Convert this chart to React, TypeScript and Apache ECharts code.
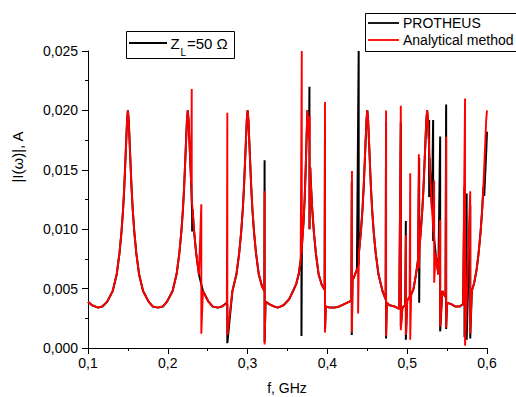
import React, { useEffect, useRef } from "react";
import * as echarts from "echarts";

type P = [number, number];
type Spike = [number, number, number]; // [f, top, bottom]

// Base resonance curve, split by period (f in GHz, |I| in A)
const seg1: P[] = [
  [0.1, 0.0039], [0.105, 0.0036], [0.1125, 0.0034], [0.118, 0.0035], [0.124, 0.0039], [0.131, 0.0048],
  [0.136, 0.0062], [0.1395, 0.008], [0.142, 0.0098], [0.144, 0.0117], [0.1455, 0.0136], [0.147, 0.016],
  [0.148, 0.0176], [0.149, 0.0192], [0.15, 0.02], [0.151, 0.0192], [0.152, 0.0176], [0.153, 0.016],
  [0.1545, 0.0136], [0.156, 0.0117], [0.158, 0.0098], [0.1605, 0.008], [0.164, 0.0062], [0.169, 0.0048],
  [0.176, 0.0039], [0.181, 0.0035],
];
const seg2: P[] = [
  [0.1875, 0.0034], [0.194, 0.0035], [0.199, 0.0039], [0.206, 0.0048], [0.211, 0.0062], [0.2145, 0.008],
  [0.217, 0.0098], [0.219, 0.0117], [0.2205, 0.0136], [0.222, 0.016], [0.223, 0.0176], [0.224, 0.0192],
  [0.225, 0.02], [0.226, 0.0192], [0.227, 0.0176], [0.228, 0.016], [0.2293, 0.0138], [0.231, 0.0117],
  [0.233, 0.0098], [0.2355, 0.008], [0.239, 0.0062], [0.244, 0.0048], [0.251, 0.0039], [0.256, 0.0035],
];
const seg3: P[] = [
  [0.2625, 0.0034], [0.268, 0.0035], [0.274, 0.0038], [0.281, 0.0048], [0.286, 0.0062], [0.2895, 0.008],
  [0.292, 0.0098], [0.294, 0.0117], [0.2955, 0.0136], [0.297, 0.016], [0.298, 0.0176], [0.299, 0.0192],
  [0.3, 0.02], [0.301, 0.0192], [0.302, 0.0176], [0.303, 0.016], [0.3045, 0.0136], [0.306, 0.0117],
  [0.308, 0.0098], [0.3105, 0.008], [0.314, 0.0062], [0.318, 0.0052], [0.321, 0.0048],
];
const seg4: P[] = [
  [0.3225, 0.0039], [0.327, 0.0037], [0.333, 0.0035], [0.338, 0.0034], [0.345, 0.0036], [0.352, 0.0041],
  [0.357, 0.0048], [0.361, 0.0054], [0.364, 0.0062], [0.3665, 0.0074], [0.368, 0.0085], [0.37, 0.0105],
  [0.3715, 0.0125], [0.373, 0.0155], [0.374, 0.018], [0.375, 0.02], [0.376, 0.0192], [0.377, 0.0176],
  [0.3785, 0.0152], [0.3795, 0.0136], [0.381, 0.0117], [0.383, 0.0098], [0.3855, 0.008], [0.389, 0.0062],
  [0.393, 0.0053], [0.3965, 0.0049],
];
const seg5: P[] = [
  [0.398, 0.0035], [0.403, 0.0034], [0.409, 0.0034], [0.415, 0.0035], [0.421, 0.0037], [0.4275, 0.0039],
  [0.43, 0.004], [0.4315, 0.0057], [0.434, 0.0061], [0.437, 0.0066], [0.4395, 0.008], [0.442, 0.0098],
  [0.444, 0.0117], [0.4455, 0.0136], [0.447, 0.016], [0.448, 0.0176], [0.449, 0.0192], [0.45, 0.02],
  [0.451, 0.0192], [0.452, 0.0176], [0.453, 0.016], [0.4545, 0.0136], [0.456, 0.0117], [0.458, 0.0098],
  [0.4605, 0.008], [0.464, 0.0062], [0.469, 0.0048], [0.473, 0.0041],
];
const seg6: P[] = [
  [0.4745, 0.0038], [0.478, 0.0036], [0.484, 0.0035], [0.49, 0.0033], [0.494, 0.0034], [0.4975, 0.0036],
  [0.5, 0.004], [0.503, 0.0043], [0.505, 0.0045], [0.508, 0.005], [0.511, 0.0062], [0.5135, 0.0074],
  [0.5155, 0.0086], [0.517, 0.0098], [0.519, 0.0117], [0.5205, 0.0136], [0.522, 0.016], [0.523, 0.0176],
  [0.524, 0.0192], [0.525, 0.02], [0.526, 0.0192], [0.527, 0.0176], [0.528, 0.016], [0.5295, 0.0136],
  [0.531, 0.0117], [0.533, 0.0098], [0.5355, 0.008], [0.539, 0.0062], [0.544, 0.0048], [0.548, 0.0043],
];
const seg7: P[] = [
  [0.55, 0.0038], [0.555, 0.0037], [0.56, 0.0035], [0.566, 0.0035], [0.57, 0.0037], [0.581, 0.0048],
  [0.584, 0.0055], [0.587, 0.0066], [0.5895, 0.008], [0.592, 0.0098], [0.594, 0.0117], [0.5955, 0.0136],
  [0.597, 0.016], [0.598, 0.0176], [0.599, 0.0192], [0.6, 0.02],
];
// PROTHEUS curve end lags slightly
const blackTail: P[] = [
  [0.5965, 0.0128], [0.598, 0.015], [0.599, 0.0165], [0.6, 0.0182],
];

const redSpikes: Spike[] = [
  [0.23, 0.0218, 0.0125], [0.242, 0.0121, 0.0012], [0.2746, 0.0198, 0.0011], [0.3213, 0.0132, 0.0003],
  [0.3679, 0.025, 0.008], [0.3778, 0.0195, 0.01], [0.397, 0.0207, 0.0013], [0.4308, 0.0149, 0.0013],
  [0.4385, 0.0068, 0.0029], [0.4735, 0.02, 0.001], [0.492, 0.0204, 0.0015], [0.4985, 0.0095, 0.0011],
  [0.5038, 0.0147, 0.0007], [0.5146, 0.0163, 0.0067], [0.5338, 0.0141, 0.0055], [0.5413, 0.0108, 0.0018],
  [0.5488, 0.0178, 0.0017], [0.5725, 0.021, 0.0002], [0.579, 0.0132, 0.0012],
];
const blackSpikes: Spike[] = [
  [0.2305, 0.0113, 0.0098], [0.2746, 0.0036, 0.0004], [0.3213, 0.0158, 0.0005], [0.3675, 0.008, 0.001],
  [0.3775, 0.022, 0.01], [0.397, 0.019, 0.0015], [0.4305, 0.014, 0.0011], [0.4392, 0.025, 0.007],
  [0.4735, 0.019, 0.0008], [0.492, 0.019, 0.0018], [0.4983, 0.0107, 0.0007], [0.515, 0.016, 0.0038],
  [0.5275, 0.0192, 0.0127], [0.5325, 0.0192, 0.009], [0.5413, 0.0178, 0.0014], [0.5488, 0.0205, 0.0016],
  [0.5718, 0.0136, 0.0009], [0.5745, 0.013, 0.0007], [0.579, 0.012, 0.0008],
];

const X_MIN = 0.1, X_MAX = 0.6, X_STEP = 0.1;
const Y_MIN = 0, Y_MAX = 0.025, Y_STEP = 0.005;

const baseCurve: P[] = [...seg1, ...seg2, ...seg3, ...seg4, ...seg5, ...seg6, ...seg7];

function build(base: P[], spikes: Spike[]): P[] {
  const items: { f: number; o: number; y: number }[] = [];
  base.forEach(([f, y]) => items.push({ f, o: 0, y }));
  spikes.forEach(([f, t, b]) => {
    items.push({ f, o: 1, y: t });
    items.push({ f, o: 2, y: b });
  });
  items.sort((a, b) => a.f - b.f || a.o - b.o);
  return items.map((i) => [i.f, i.y] as P);
}

const FONT = "'Liberation Sans', Arial, sans-serif";

export default function App() {
  const ref = useRef<HTMLDivElement>(null);
  useEffect(() => {
    if (!ref.current) return;
    const chart = echarts.init(ref.current, undefined, { renderer: "svg" });
    const blackBase = [...baseCurve.filter((p) => p[0] < 0.5965), ...blackTail];
    const blackData = build(blackBase, blackSpikes);
    const redData = build(baseCurve, redSpikes);
    const axisCommon = {
      axisLine: { show: true, lineStyle: { color: "#000", width: 1 } },
      axisTick: { show: true, length: 6, lineStyle: { color: "#000", width: 1 } },
      minorTick: { show: true, splitNumber: 2, length: 3, lineStyle: { color: "#000", width: 1 } },
      splitLine: { show: false },
      minorSplitLine: { show: false },
    };
    chart.setOption({
      animation: false,
      backgroundColor: "#fff",
      grid: { left: 88, right: 29, top: 51, bottom: 49, containLabel: false },
      xAxis: {
        type: "value",
        min: X_MIN,
        max: X_MAX,
        interval: X_STEP,
        ...axisCommon,
        axisLabel: {
          margin: 8,
          color: "#000",
          fontSize: 14,
          fontFamily: FONT,
          formatter: (v: number) => v.toFixed(1).replace(".", ","),
        },
      },
      yAxis: {
        type: "value",
        min: Y_MIN,
        max: Y_MAX,
        interval: Y_STEP,
        ...axisCommon,
        axisLabel: {
          margin: 10,
          color: "#000",
          fontSize: 14,
          fontFamily: FONT,
          formatter: (v: number) => v.toFixed(3).replace(".", ","),
        },
      },
      series: [
        {
          name: "PROTHEUS",
          type: "line",
          data: blackData,
          showSymbol: false,
          symbol: "none",
          silent: true,
          lineStyle: { color: "#000", width: 2 },
        },
        {
          name: "Analytical method",
          type: "line",
          data: redData,
          showSymbol: false,
          symbol: "none",
          silent: true,
          lineStyle: { color: "#ff0000", width: 1.9 },
        },
      ],
      graphic: [
        {
          type: "rect",
          z: 100,
          shape: { x: 365.5, y: 13.5, width: 160, height: 38 },
          style: { fill: "#fff", stroke: "#000", lineWidth: 1 },
        },
        { type: "line", z: 101, shape: { x1: 368, y1: 23, x2: 399, y2: 23 }, style: { stroke: "#000", lineWidth: 1.8 } },
        {
          type: "text", z: 101, x: 403, y: 23,
          style: { text: "PROTHEUS", font: `14px ${FONT}`, fill: "#000", verticalAlign: "middle" },
        },
        { type: "line", z: 101, shape: { x1: 368, y1: 40, x2: 399, y2: 40 }, style: { stroke: "#ff0000", lineWidth: 1.8 } },
        {
          type: "text", z: 101, x: 403, y: 40,
          style: { text: "Analytical method", font: `14px ${FONT}`, fill: "#000", verticalAlign: "middle" },
        },
        {
          type: "rect",
          z: 100,
          shape: { x: 126.5, y: 31.5, width: 108, height: 27 },
          style: { fill: "#fff", stroke: "#000", lineWidth: 1 },
        },
        { type: "line", z: 101, shape: { x1: 129, y1: 43, x2: 167, y2: 43 }, style: { stroke: "#000", lineWidth: 1.8 } },
        {
          type: "text", z: 101, x: 170.5, y: 43.5,
          style: { text: "Z", font: `15px ${FONT}`, fill: "#000", verticalAlign: "middle" },
        },
        {
          type: "text", z: 101, x: 180.5, y: 52,
          style: { text: "L", font: `10px ${FONT}`, fill: "#000", verticalAlign: "middle" },
        },
        {
          type: "text", z: 101, x: 187, y: 43.5,
          style: { text: "=50 Ω", font: `15px ${FONT}`, fill: "#000", verticalAlign: "middle" },
        },
        {
          type: "text", z: 101, x: 17, y: 157, rotation: Math.PI / 2,
          style: { text: "|I(ω)|, A", font: `15px ${FONT}`, fill: "#000", align: "center", verticalAlign: "middle" },
        },
        {
          type: "text", z: 101, x: 287, y: 388,
          style: { text: "f, GHz", font: `14px ${FONT}`, fill: "#000", align: "center", verticalAlign: "middle" },
        },
      ],
    });
    return () => chart.dispose();
  }, []);
  return (
    <div
      ref={ref}
      style={{ position: "fixed", left: 0, top: 0, width: 516, height: 397, background: "#fff" }}
    />
  );
}
